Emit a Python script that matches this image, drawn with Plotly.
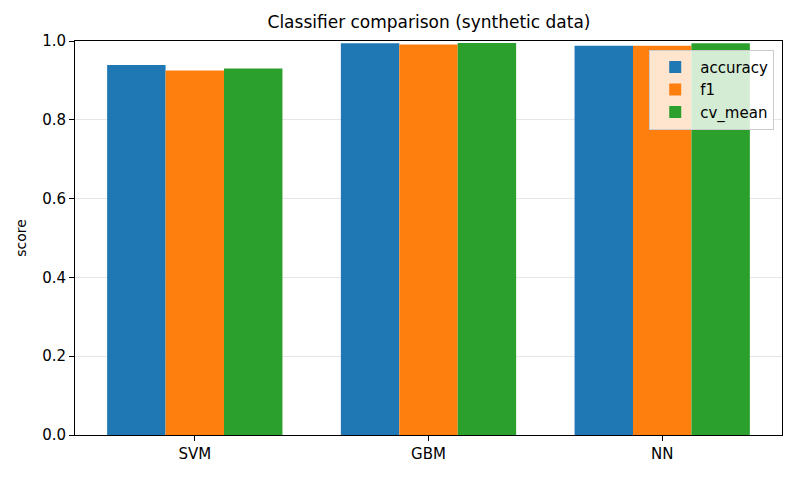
import plotly.graph_objects as go

models = ["SVM", "GBM", "NN"]
accuracy = [0.939, 0.994, 0.988]
f1 = [0.925, 0.991, 0.988]
cv_mean = [0.930, 0.995, 0.994]

series = [
    ("accuracy", accuracy, "#1f77b4"),
    ("f1", f1, "#ff7f0e"),
    ("cv_mean", cv_mean, "#2ca02c"),
]

# page has an 8px body margin, so the figure is a bit smaller and margins shifted
fig = go.Figure()
for name, vals, color in series:
    fig.add_trace(go.Bar(x=models, y=vals, name=name, marker_color=color,
                         marker_line_width=0))

fig.update_layout(
    width=792, height=472,
    paper_bgcolor="white", plot_bgcolor="white",
    font=dict(family="DejaVu Sans", size=15, color="black"),
    margin=dict(l=67, r=18, t=33, b=45),
    barmode="group", bargap=0.25, bargroupgap=0,
    title=dict(text="Classifier comparison (synthetic data)", x=(67.5 + 774.5) / 2 / 792,
               xanchor="center", y=1 - 14 / 472, yanchor="middle",
               font=dict(size=17)),
    legend=dict(x=0.989, y=0.978, xanchor="right", yanchor="top", itemwidth=40,
                bgcolor="rgba(255,255,255,0.8)", bordercolor="#cccccc", borderwidth=1,
                font=dict(size=15)),
)

fig.update_xaxes(range=[-0.5125, 2.5125], showline=True, linecolor="black", linewidth=1,
                 mirror=True, ticks="outside", ticklen=5, tickcolor="black", showgrid=False)
fig.update_yaxes(range=[0, 1], dtick=0.2, tickformat=".1f", showline=True, linecolor="black",
                 linewidth=1, mirror=True, ticks="outside", ticklen=5, tickcolor="black",
                 showgrid=True, gridcolor="#e6e6e6", gridwidth=1, zeroline=False,
                 title=dict(text="score", font=dict(size=14), standoff=12))

fig.write_html("out.html")
